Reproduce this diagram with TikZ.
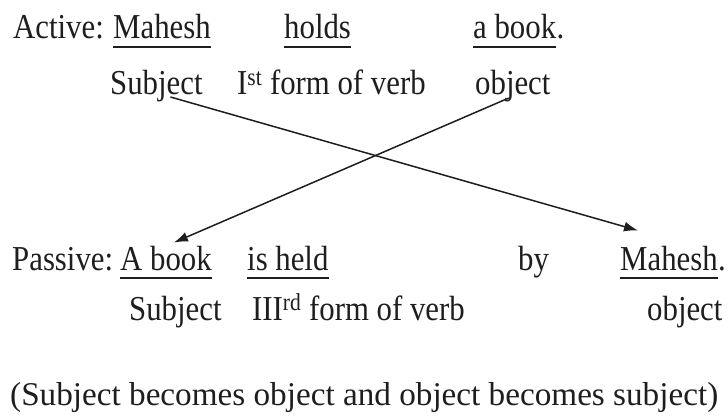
\documentclass[tikz,border=0pt]{standalone}
\usepackage{fontspec}
\setmainfont{Liberation Serif}[FakeStretch=0.88]
\newfontfamily\notefont{Liberation Serif}
\usetikzlibrary{arrows.meta,positioning,calc}
\definecolor{TextInk}{HTML}{1E1E1E}

\begin{document}
\begin{tikzpicture}[x=1pt, y=-1pt,
  word/.style={inner sep=0pt, anchor=base west, text=TextInk,
               font=\fontsize{35}{40}\selectfont},
  uline/.style={draw=TextInk, line width=1.6pt},
  swap/.style={draw=TextInk, line width=1.5pt,
               -{Latex[length=14pt,width=10pt]}}]
  \useasboundingbox (0,0) rectangle (728,420);
  % active sentence
  \node[word] (act) at (13,39) {Active:};
  \node[word] (mahesh1) at (113,39) {Mahesh};
  \node[word] (holds) at (284,39) {holds};
  \node[word] (abook1) at (473,39) {a book};
  \node[word] (dot1) at (abook1.base east) {.};
  \node[word] (subj1) at (110,95) {Subject};
  \node[word] (verb1) at (237,95) {I\textsuperscript{st} form of verb};
  \node[word] (obj1) at (475,95) {object};
  % passive sentence
  \node[word] (pass) at (12,270) {Passive:};
  \node[word] (abook2) at (120,270) {A book};
  \node[word] (isheld) at (247,270) {is held};
  \node[word] (by) at (518,270) {by};
  \node[word] (mahesh2) at (620,270) {Mahesh};
  \node[word] (dot2) at (mahesh2.base east) {.};
  \node[word] (subj2) at (129,320) {Subject};
  \node[word] (verb2) at (252,320) {III\textsuperscript{rd} form of verb};
  \node[word] (obj2) at (647,320) {object};
  % note
  \node[word, font=\notefont\fontsize{33.2}{38}\selectfont] (note) at (10,405)
    {(Subject becomes object and object becomes subject)};
  % underlines
  \foreach \w in {mahesh1,holds,abook1,abook2,isheld,mahesh2}
    \draw[uline] ([yshift=-8pt]\w.base west) -- ([yshift=-8pt]\w.base east);
  % crossing arrows
  \draw[swap] ([xshift=14pt,yshift=-2pt]subj1.base)
    -- ([xshift=18pt,yshift=15pt]mahesh2.north west);
  \draw[swap] ([xshift=-4pt,yshift=-3pt]obj1.base)
    -- ([xshift=8pt,yshift=3pt]abook2.north);
\end{tikzpicture}
\end{document}
